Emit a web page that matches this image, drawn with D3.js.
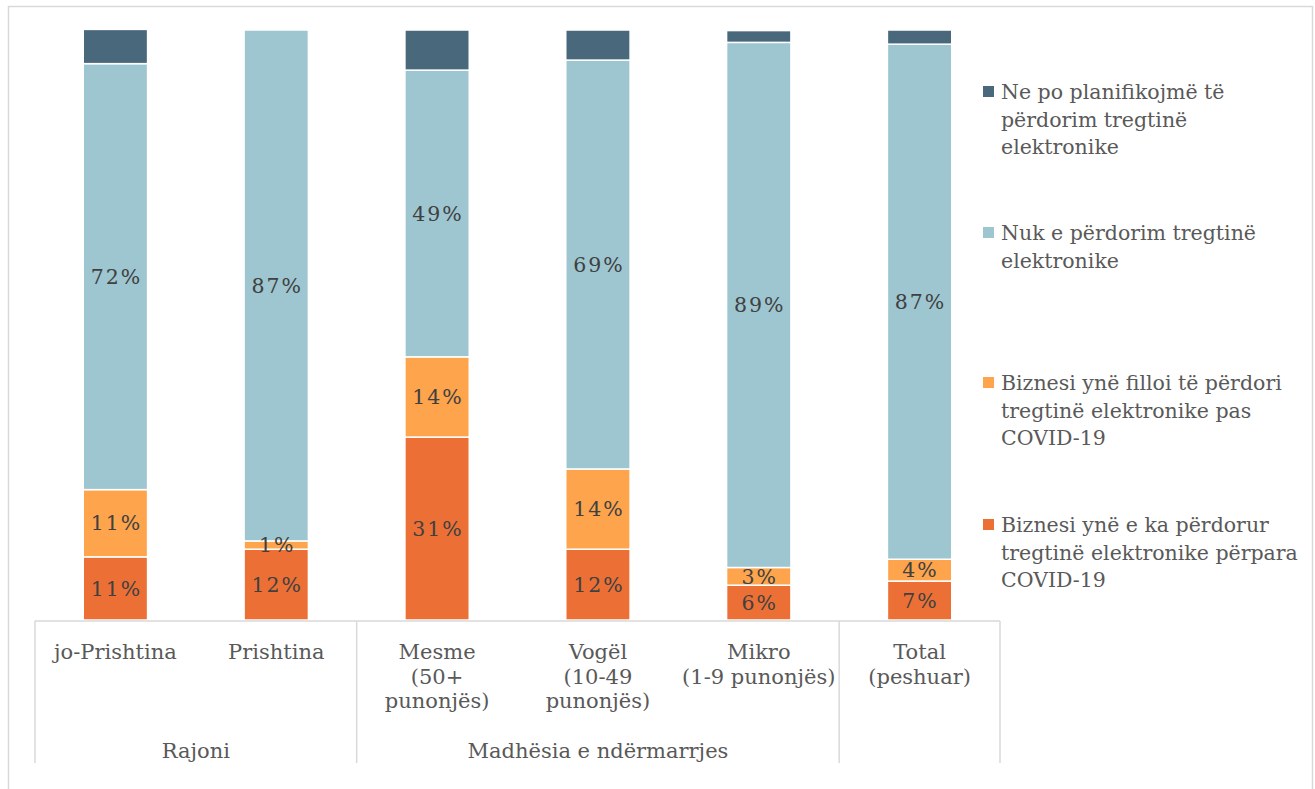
<!DOCTYPE html>
<html>
<head>
<meta charset="utf-8">
<script src="https://cdn.jsdelivr.net/npm/d3@7"></script>
<style>
  html, body { margin: 0; padding: 0; background: #fff; }
  svg { display: block; }
</style>
</head>
<body>
<svg id="chart" width="1315" height="789"></svg>
<script>
// ---- Data ----
const categories = ["jo-Prishtina", "Prishtina", "Mesme", "Vogël", "Mikro", "Total"];
const categoryLines = [
  ["jo-Prishtina"],
  ["Prishtina"],
  ["Mesme", "(50+", "punonjës)"],
  ["Vogël", "(10-49", "punonjës)"],
  ["Mikro", "(1-9 punonjës)"],
  ["Total", "(peshuar)"]
];
const groups = ["Rajoni", "Madhësia e ndërmarrjes", ""];
const groupSpans = [[0, 2], [2, 5], [5, 6]];

const seriesNames = [
  "Biznesi ynë e ka përdorur tregtinë elektronike përpara COVID-19",
  "Biznesi ynë filloi të përdori tregtinë elektronike pas COVID-19",
  "Nuk e përdorim tregtinë elektronike",
  "Ne po planifikojmë të përdorim tregtinë elektronike"
];
const legendLines = [
  ["Ne po planifikojmë të", "përdorim tregtinë", "elektronike"],
  ["Nuk e përdorim tregtinë", "elektronike"],
  ["Biznesi ynë filloi të përdori", "tregtinë elektronike pas", "COVID-19"],
  ["Biznesi ynë e ka përdorur", "tregtinë elektronike përpara", "COVID-19"]
];
const usedBefore   = [10.7, 12.0, 31.0, 12.0, 5.9, 6.6];
const startedAfter = [11.4, 1.4, 13.6, 13.6, 3.0, 3.7];
const notUsing     = [72.2, 86.6, 48.6, 69.3, 89.0, 87.3];
const planning     = [5.8, 0.0, 6.8, 5.1, 2.0, 2.4];
const labelShown   = [true, true, true, false];

const colors = ["#ec7036", "#fda44c", "#9ec6d0", "#4a687c"];

// ---- Build table ----
const keys = ["before", "after", "not", "plan"];
const table = categories.map((c, i) => ({
  cat: c, before: usedBefore[i], after: startedAfter[i], not: notUsing[i], plan: planning[i]
}));
const stacked = d3.stack().keys(keys)(table);

// ---- Layout ----
const svg = d3.select("#chart");
const FONT = "'DejaVu Serif', Georgia, serif";
const plotLeft = 35, plotRight = 1000, plotTop = 30, plotBottom = 620;
const axisBottom = 763;

svg.append("rect")
  .attr("x", 8.5).attr("y", 6.5).attr("width", 1304).attr("height", 800)
  .attr("fill", "#fff").attr("stroke", "#d9d9d9").attr("stroke-width", 1.5);

const x = d3.scaleBand().domain(categories).range([plotLeft, plotRight]).padding(0);
const y = d3.scaleLinear().domain([0, 100]).range([plotBottom, plotTop]);
const barW = x.bandwidth() * 0.4;

const g = svg.append("g");
stacked.forEach((s, si) => {
  const layer = g.append("g").attr("fill", colors[si]);
  layer.selectAll("rect").data(s).join("rect")
    .attr("x", d => x(d.data.cat) + (x.bandwidth() - barW) / 2)
    .attr("y", d => y(d[1]))
    .attr("width", barW)
    .attr("height", d => Math.max(0, y(d[0]) - y(d[1])))
    .attr("stroke", "#fff").attr("stroke-width", d => (d[1] - d[0]) > 0 ? 1.5 : 0);
});

// labels
stacked.forEach((s, si) => {
  if (!labelShown[si]) return;
  g.append("g").selectAll("text").data(s).join("text")
    .attr("x", d => x(d.data.cat) + x.bandwidth() / 2 + 1)
    .attr("y", d => (y(d[0]) + y(d[1])) / 2)
    .attr("dy", "0.35em")
    .attr("text-anchor", "middle")
    .attr("font-family", FONT).attr("font-size", 20.5)
    .attr("letter-spacing", 2)
    .attr("fill", "#404040")
    .text(d => Math.round(d[1] - d[0]) + "%");
});

// axis lines
const axisColor = "#d9d9d9";
svg.append("line").attr("x1", plotLeft).attr("x2", plotRight)
  .attr("y1", plotBottom + 1).attr("y2", plotBottom + 1)
  .attr("stroke", axisColor).attr("stroke-width", 1.5);
const sepXs = [plotLeft].concat(groupSpans.map(s => s[1] < categories.length ? x(categories[s[1]]) : plotRight));
sepXs.forEach(sx => {
  svg.append("line").attr("x1", sx).attr("x2", sx)
    .attr("y1", plotBottom + 1).attr("y2", axisBottom)
    .attr("stroke", axisColor).attr("stroke-width", 1.5);
});

// category labels
categories.forEach((c, i) => {
  const t = svg.append("text")
    .attr("x", x(c) + x.bandwidth() / 2)
    .attr("y", 659)
    .attr("text-anchor", "middle")
    .attr("font-family", FONT).attr("font-size", 21)
    .attr("fill", "#595959");
  categoryLines[i].forEach((ln, li) => {
    t.append("tspan").attr("x", x(c) + x.bandwidth() / 2).attr("dy", li === 0 ? 0 : 24.5).text(ln);
  });
});

// group labels
groups.forEach((gname, gi) => {
  const [a, b] = groupSpans[gi];
  const x0 = x(categories[a]);
  const x1 = b < categories.length ? x(categories[b]) : plotRight;
  svg.append("text")
    .attr("x", (x0 + x1) / 2).attr("y", 758)
    .attr("text-anchor", "middle")
    .attr("font-family", FONT).attr("font-size", 21)
    .attr("fill", "#595959")
    .text(gname);
});

// legend
const legendTops = [92, 233, 383, 525];
const legendOrder = [3, 2, 1, 0];
legendOrder.forEach((si, li) => {
  const ly = legendTops[li];
  svg.append("rect")
    .attr("x", 983).attr("y", ly - 6).attr("width", 11).attr("height", 11)
    .attr("fill", colors[si]);
  const t = svg.append("text")
    .attr("x", 1001).attr("y", ly)
    .attr("font-family", FONT).attr("font-size", 20.5)
    .attr("fill", "#595959");
  legendLines[li].forEach((ln, k) => {
    t.append("tspan").attr("x", 1001).attr("dy", k === 0 ? "0.35em" : 27.5).text(ln);
  });
});
</script>
</body>
</html>
